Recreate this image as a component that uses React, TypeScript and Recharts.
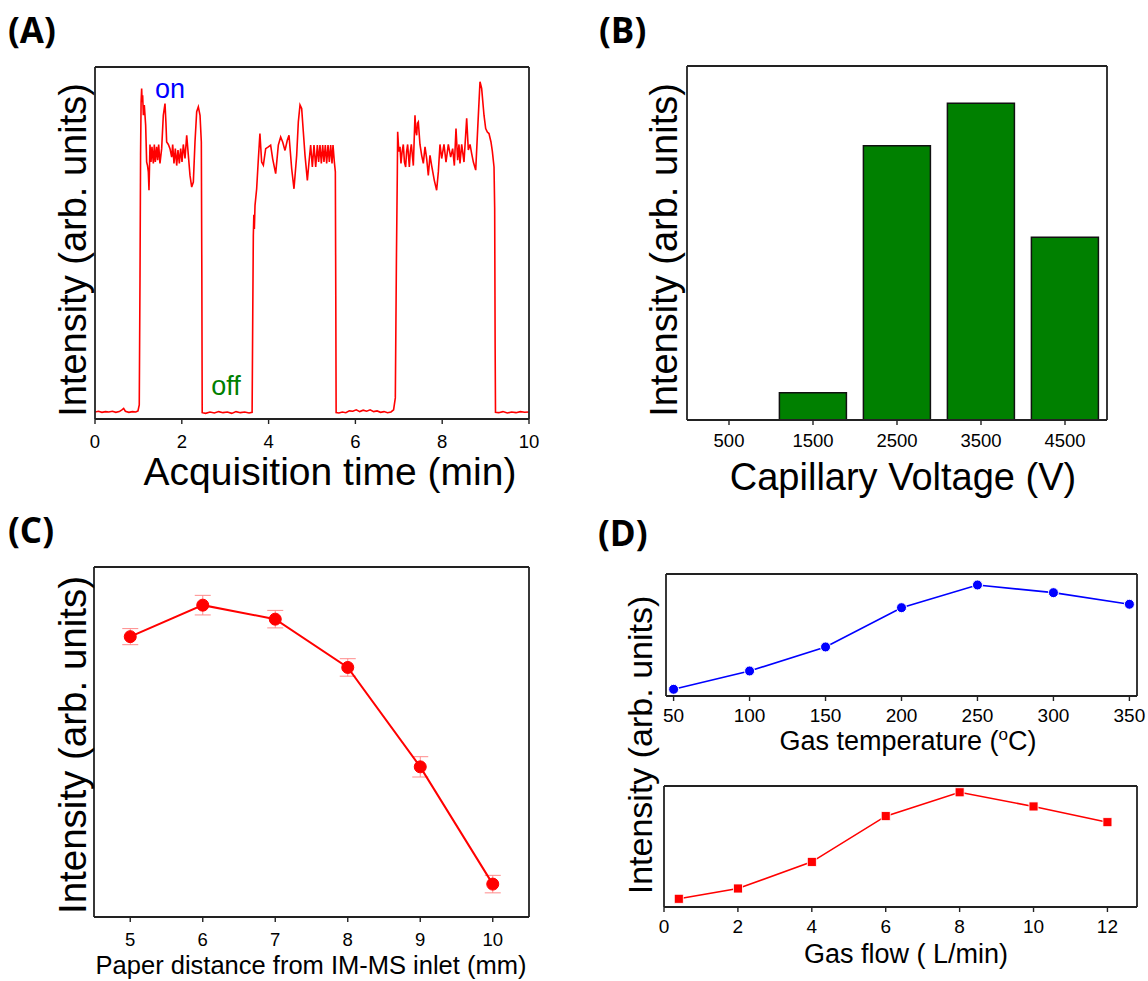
import React from 'react';
import { LineChart, Line, BarChart, Bar, XAxis, YAxis, ErrorBar } from 'recharts';

const W = 1148;
const H = 981;
const FONT = '"Liberation Sans", Arial, sans-serif';
const LABEL_FONT = '"Open Sans", "Liberation Sans", Arial, sans-serif';
const FRAME = '#222';

// ---------- Panel A: signal vs acquisition time ----------
const timeA = [
  0, 0.08, 0.16, 0.24, 0.32, 0.4, 0.48, 0.56, 0.62, 0.66, 0.7, 0.78, 0.86, 0.94, 0.99, 1.02,
  1.037, 1.05, 1.062, 1.075, 1.086, 1.098, 1.114, 1.136, 1.167, 1.19, 1.21, 1.229, 1.244, 1.267, 1.29, 1.313,
  1.344, 1.367, 1.39, 1.42, 1.444, 1.467, 1.497, 1.536, 1.574, 1.613, 1.635, 1.651, 1.69, 1.728, 1.767, 1.79,
  1.82, 1.851, 1.882, 1.912, 1.943, 1.974, 2.005, 2.035, 2.074, 2.113, 2.151, 2.189, 2.228, 2.266, 2.304, 2.343,
  2.381, 2.42, 2.45, 2.462, 2.47,
  2.55, 2.65, 2.75, 2.85, 2.95, 3.05, 3.15, 3.25, 3.35, 3.45, 3.55, 3.62,
  3.635, 3.648, 3.66, 3.672, 3.687, 3.725, 3.76, 3.8, 3.84, 3.879, 3.933, 3.994, 4.047, 4.094, 4.163, 4.224,
  4.278, 4.324, 4.378, 4.431, 4.47, 4.532, 4.585, 4.647, 4.685, 4.724, 4.762, 4.8, 4.839, 4.893, 4.931, 4.969,
  5.008, 5.046, 5.085, 5.123, 5.153, 5.184, 5.215, 5.246, 5.276, 5.307, 5.338, 5.369, 5.399, 5.43, 5.461, 5.484,
  5.515, 5.538, 5.548, 5.556,
  5.62, 5.7, 5.78, 5.86, 5.94, 6.02, 6.1, 6.18, 6.26, 6.34, 6.42, 6.5, 6.58, 6.66, 6.74, 6.82, 6.88, 6.92,
  6.945, 6.966, 6.974, 7.0, 7.028, 7.05, 7.077, 7.104, 7.13, 7.158, 7.18, 7.204, 7.243, 7.265, 7.289, 7.335,
  7.373, 7.39, 7.412, 7.43, 7.45, 7.488, 7.527, 7.565, 7.604, 7.642, 7.68, 7.719, 7.757, 7.818, 7.872, 7.911,
  7.949, 7.988, 8.041, 8.088, 8.141, 8.195, 8.241, 8.28, 8.318, 8.356, 8.387, 8.41, 8.449, 8.502, 8.564, 8.602,
  8.641, 8.679, 8.718, 8.772, 8.818, 8.871, 8.909, 8.963, 9.002, 9.04, 9.078, 9.124, 9.155, 9.194, 9.209, 9.22,
  9.228,
  9.3, 9.4, 9.5, 9.6, 9.7, 9.8, 9.9, 10,
];
const intensityA = [
  2.0, 2.2, 1.9, 2.1, 2.0, 2.2, 1.9, 2.1, 2.6, 3.0, 2.2, 1.9, 2.1, 2.0, 2.3, 4,
  40, 75, 90, 93.9, 90, 92, 86.3, 89.2, 83.5, 73.0, 72, 70.2, 65.0, 78, 73, 77.3,
  72.6, 78, 73, 77.3, 73.5, 78, 72.6, 76.8, 86.3, 89.6, 84, 78.7, 78, 76.8, 74.4, 78,
  72.6, 76.8, 72, 76.4, 72.6, 76.8, 73, 78, 74, 80.6, 74.9, 69.2, 65.9, 67.3, 78.7, 87.3,
  88.7, 86.3, 78.7, 40, 1.8,
  1.6, 2.0, 1.7, 2.1, 1.8, 2.0, 1.6, 2.1, 1.8, 2.0, 1.7, 1.9,
  30, 52, 58, 54, 60.7, 65.4, 73, 81.1, 73, 72.1, 76.8, 77.3, 77.8, 73.9, 69.7, 77.8,
  80.1, 78.7, 76.3, 79.2, 80.6, 71.1, 65.4, 74.9, 84.4, 89.2, 88.2, 81.6, 74.9, 67.8, 73, 77.8,
  71.6, 77.8, 71.6, 77.8, 73, 77.8, 72.6, 77.8, 73, 77.8, 72.6, 77.8, 73, 77.8, 72.6, 77.8,
  73, 70.2, 35, 1.8,
  1.7, 2.0, 1.8, 2.3, 2.2, 2.6, 2.1, 2.5, 2.2, 2.6, 2.1, 2.3, 1.9, 2.1, 1.8, 2.0, 2.6, 6,
  45, 70, 81.6, 76, 77.3, 72.6, 76, 78, 73, 71.6, 76, 78, 71.6, 76, 78, 72,
  86.3, 82, 80.6, 84, 84.4, 78, 74.9, 72.6, 77.3, 74, 69.2, 74.9, 72, 67.8, 65, 70.2,
  78, 74, 78, 73, 78, 74.4, 76.8, 72, 82.5, 73.5, 78, 72.6, 78, 73, 85.4, 76.4,
  78, 75.4, 73, 70.7, 82.5, 95.8, 93.9, 86.3, 82.5, 81.5, 81.1, 78.7, 76.1, 71.6, 60, 20,
  1.9,
  1.8, 2.1, 1.7, 2.0, 1.8, 2.1, 1.9, 2.0,
];
const ticksA = [0, 2, 4, 6, 8, 10];

// ---------- Panel B: capillary voltage ----------
const voltages = ['500', '1500', '2500', '3500', '4500'];
const intensityB = [0, 7.7, 77.5, 89.5, 51.6];

// ---------- Panel C: paper distance ----------
const distances = [5, 6, 7, 8, 9, 10];
const intensityC = [80.1, 89.1, 85.1, 71.3, 42.9, 9.4];
const errorC = [2.3, 2.8, 2.5, 2.5, 2.9, 2.5];

// ---------- Panel D: gas temperature / gas flow ----------
const gasTemps = [50, 100, 150, 200, 250, 300, 350];
const intensityTemp = [5.5, 20.5, 40.2, 72.4, 91, 84.7, 75.2];
const gasFlows = [0.4, 2, 4, 6, 8, 10, 12];
const intensityFlow = [6.8, 15.3, 37.3, 75.1, 94.8, 83.1, 70.1];
const flowTicks = [0, 2, 4, 6, 8, 10, 12];

const dataA = timeA.map((t, i) => ({ t, v: intensityA[i] }));
const dataB = voltages.map((v, i) => ({ v, i: intensityB[i] }));
const dataC = distances.map((d, i) => ({ d, i: intensityC[i], e: errorC[i] }));
const dataDT = gasTemps.map((x, i) => ({ x, i: intensityTemp[i] }));
const dataDF = gasFlows.map((x, i) => ({ x, i: intensityFlow[i] }));

// axis sizes (added to margins by recharts)
const AX_B = 40; // bottom x axis height
const AX_T = 1; // top x axis height
const AX_L = 1; // left y axis width
const AX_R = 1; // right y axis width

// plot-area box -> chart margin
const box = (l: number, t: number, r: number, b: number) => ({
  left: l - AX_L,
  top: t - AX_T,
  right: W - r - AX_R,
  bottom: H - b - AX_B,
});
const axisLine = { stroke: FRAME, strokeWidth: 1.8 };
const tickLine = { stroke: FRAME, strokeWidth: 1.4 };
const layer: React.CSSProperties = { position: 'absolute', left: 0, top: 0 };

const makeTick = (size: number) => (props: any) => {
  const { x, y, payload, index } = props;
  return (
    <text key={`t-${index}`} x={x} y={y} dy="0.71em" textAnchor="middle" fontSize={size}
      fontFamily={FONT} fill="#000">
      {payload.value}
    </text>
  );
};
const tickA = makeTick(18.5);
const tickD = makeTick(19);

const SquareDot = (props: any) => {
  const { cx, cy, index } = props;
  if (cx == null || cy == null) return null;
  return <rect key={`sq-${index}`} x={cx - 4.5} y={cy - 4.5} width={9} height={9} fill="#ff0000" stroke="#fff" strokeWidth={0.8} />;
};

export default function App() {
  return (
    <div style={{ position: 'absolute', left: 0, top: 0, width: W, height: H, background: '#fff' }}>
      {/* Panel A */}
      <div style={layer}>
        <LineChart width={W} height={H} data={dataA} margin={box(95, 67, 529, 419)}>
          <XAxis dataKey="t" type="number" domain={[0, 10]} ticks={ticksA} interval={0} height={AX_B}
            tickSize={5} tickMargin={11} tick={tickA} tickLine={tickLine} axisLine={axisLine} allowDataOverflow />
          <XAxis xAxisId="top" orientation="top" dataKey="t" type="number" domain={[0, 10]} height={AX_T}
            tick={false} tickLine={false} axisLine={axisLine} />
          <YAxis type="number" domain={[0, 100]} width={AX_L} tick={false} tickLine={false} axisLine={axisLine} allowDataOverflow />
          <YAxis yAxisId="right" orientation="right" type="number" domain={[0, 100]} width={AX_R} tick={false} tickLine={false} axisLine={axisLine} />
          <Line dataKey="v" type="linear" stroke="#ff0000" strokeWidth={1.6} dot={false} isAnimationActive={false} />
        </LineChart>
      </div>

      {/* Panel B */}
      <div style={layer}>
        <BarChart width={W} height={H} data={dataB} margin={box(687, 66, 1107, 420)} barCategoryGap="10%">
          <XAxis dataKey="v" type="category" interval={0} height={AX_B} tickSize={5} tickMargin={9}
            tick={tickA} tickLine={tickLine} axisLine={axisLine} />
          <XAxis xAxisId="top" orientation="top" dataKey="v" type="category" height={AX_T} tick={false} tickLine={false} axisLine={axisLine} />
          <YAxis type="number" domain={[0, 100]} width={AX_L} tick={false} tickLine={false} axisLine={axisLine} />
          <YAxis yAxisId="right" orientation="right" type="number" domain={[0, 100]} width={AX_R} tick={false} tickLine={false} axisLine={axisLine} />
          <Bar dataKey="i" fill="#008000" stroke="#111" strokeWidth={1.5} isAnimationActive={false} />
        </BarChart>
      </div>

      {/* Panel C */}
      <div style={layer}>
        <LineChart width={W} height={H} data={dataC} margin={box(94, 567, 529, 917)}>
          <XAxis dataKey="d" type="number" domain={[4.5, 10.5]} ticks={distances} interval={0} height={AX_B}
            tickSize={5} tickMargin={11} tick={tickA} tickLine={tickLine} axisLine={axisLine} />
          <XAxis xAxisId="top" orientation="top" dataKey="d" type="number" domain={[4.5, 10.5]} height={AX_T}
            tick={false} tickLine={false} axisLine={axisLine} />
          <YAxis type="number" domain={[0, 100]} width={AX_L} tick={false} tickLine={false} axisLine={axisLine} />
          <YAxis yAxisId="right" orientation="right" type="number" domain={[0, 100]} width={AX_R} tick={false} tickLine={false} axisLine={axisLine} />
          <Line dataKey="i" type="linear" stroke="#ff0000" strokeWidth={2}
            dot={{ r: 6, fill: '#ff0000', stroke: '#ff0000', strokeWidth: 1 }} isAnimationActive={false}>
            <ErrorBar dataKey="e" direction="y" width={8} stroke="#ff8c8c" strokeWidth={1} />
          </Line>
        </LineChart>
      </div>

      {/* Panel D top: gas temperature */}
      <div style={layer}>
        <LineChart width={W} height={H} data={dataDT} margin={box(666, 574, 1137, 696)}>
          <XAxis dataKey="x" type="number" domain={[45, 355]} ticks={gasTemps} interval={0} height={AX_B}
            tickSize={5} tickMargin={8} tick={tickD} tickLine={tickLine} axisLine={axisLine} />
          <XAxis xAxisId="top" orientation="top" dataKey="x" type="number" domain={[45, 355]} height={AX_T}
            tick={false} tickLine={false} axisLine={axisLine} />
          <YAxis type="number" domain={[0, 100]} width={AX_L} tick={false} tickLine={false} axisLine={axisLine} />
          <YAxis yAxisId="right" orientation="right" type="number" domain={[0, 100]} width={AX_R} tick={false} tickLine={false} axisLine={axisLine} />
          <Line dataKey="i" type="linear" stroke="#0000ff" strokeWidth={1.6}
            dot={{ r: 5, fill: '#0000ff', stroke: '#fff', strokeWidth: 1 }} isAnimationActive={false} />
        </LineChart>
      </div>

      {/* Panel D bottom: gas flow */}
      <div style={layer}>
        <LineChart width={W} height={H} data={dataDF} margin={box(664, 786, 1137, 907)}>
          <XAxis dataKey="x" type="number" domain={[0, 12.8]} ticks={flowTicks} interval={0} height={AX_B}
            tickSize={5} tickMargin={8} tick={tickD} tickLine={tickLine} axisLine={axisLine} />
          <XAxis xAxisId="top" orientation="top" dataKey="x" type="number" domain={[0, 12.8]} height={AX_T}
            tick={false} tickLine={false} axisLine={axisLine} />
          <YAxis type="number" domain={[0, 100]} width={AX_L} tick={false} tickLine={false} axisLine={axisLine} />
          <YAxis yAxisId="right" orientation="right" type="number" domain={[0, 100]} width={AX_R} tick={false} tickLine={false} axisLine={axisLine} />
          <Line dataKey="i" type="linear" stroke="#ff0000" strokeWidth={1.6} dot={SquareDot} isAnimationActive={false} />
        </LineChart>
      </div>

      {/* Titles and annotations */}
      <svg width={W} height={H} style={{ ...layer, pointerEvents: 'none' }} fontFamily={FONT}>
        <g fontFamily={LABEL_FONT} fontWeight="bold" fontSize={35} fill="#000">
          <text x={8} y={43}>(A)</text>
          <text x={599} y={43}>(B)</text>
          <text x={8} y={543}>(C)</text>
          <text x={598} y={546}>(D)</text>
        </g>
        <text x={170} y={98} textAnchor="middle" fontSize={27} fill="#0000ff">on</text>
        <text x={226} y={395} textAnchor="middle" fontSize={27} fill="#008000">off</text>

        <text x={330} y={485} textAnchor="middle" fontSize={39} fill="#000">Acquisition time (min)</text>
        <text x={86} y={250} transform="rotate(-90 86 250)" textAnchor="middle" fontSize={38} fill="#000">Intensity (arb. units)</text>

        <text x={903} y={490} textAnchor="middle" fontSize={38} fill="#000">Capillary Voltage (V)</text>
        <text x={677} y={250} transform="rotate(-90 677 250)" textAnchor="middle" fontSize={38} fill="#000">Intensity (arb. units)</text>

        <text x={311} y={974} textAnchor="middle" fontSize={25.5} fill="#000">Paper distance from IM-MS inlet (mm)</text>
        <text x={86} y={745} transform="rotate(-90 86 745)" textAnchor="middle" fontSize={38.5} fill="#000">Intensity (arb. units)</text>

        <text x={908} y={750} textAnchor="middle" fontSize={27} fill="#000">
          Gas temperature (<tspan dy={-10} fontSize={17}>o</tspan><tspan dy={10}>C)</tspan>
        </text>
        <text x={906} y={963} textAnchor="middle" fontSize={27} fill="#000">Gas flow ( L/min)</text>
        <text x={652} y={745} transform="rotate(-90 652 745)" textAnchor="middle" fontSize={34} fill="#000">Intensity (arb. units)</text>
      </svg>
    </div>
  );
}
